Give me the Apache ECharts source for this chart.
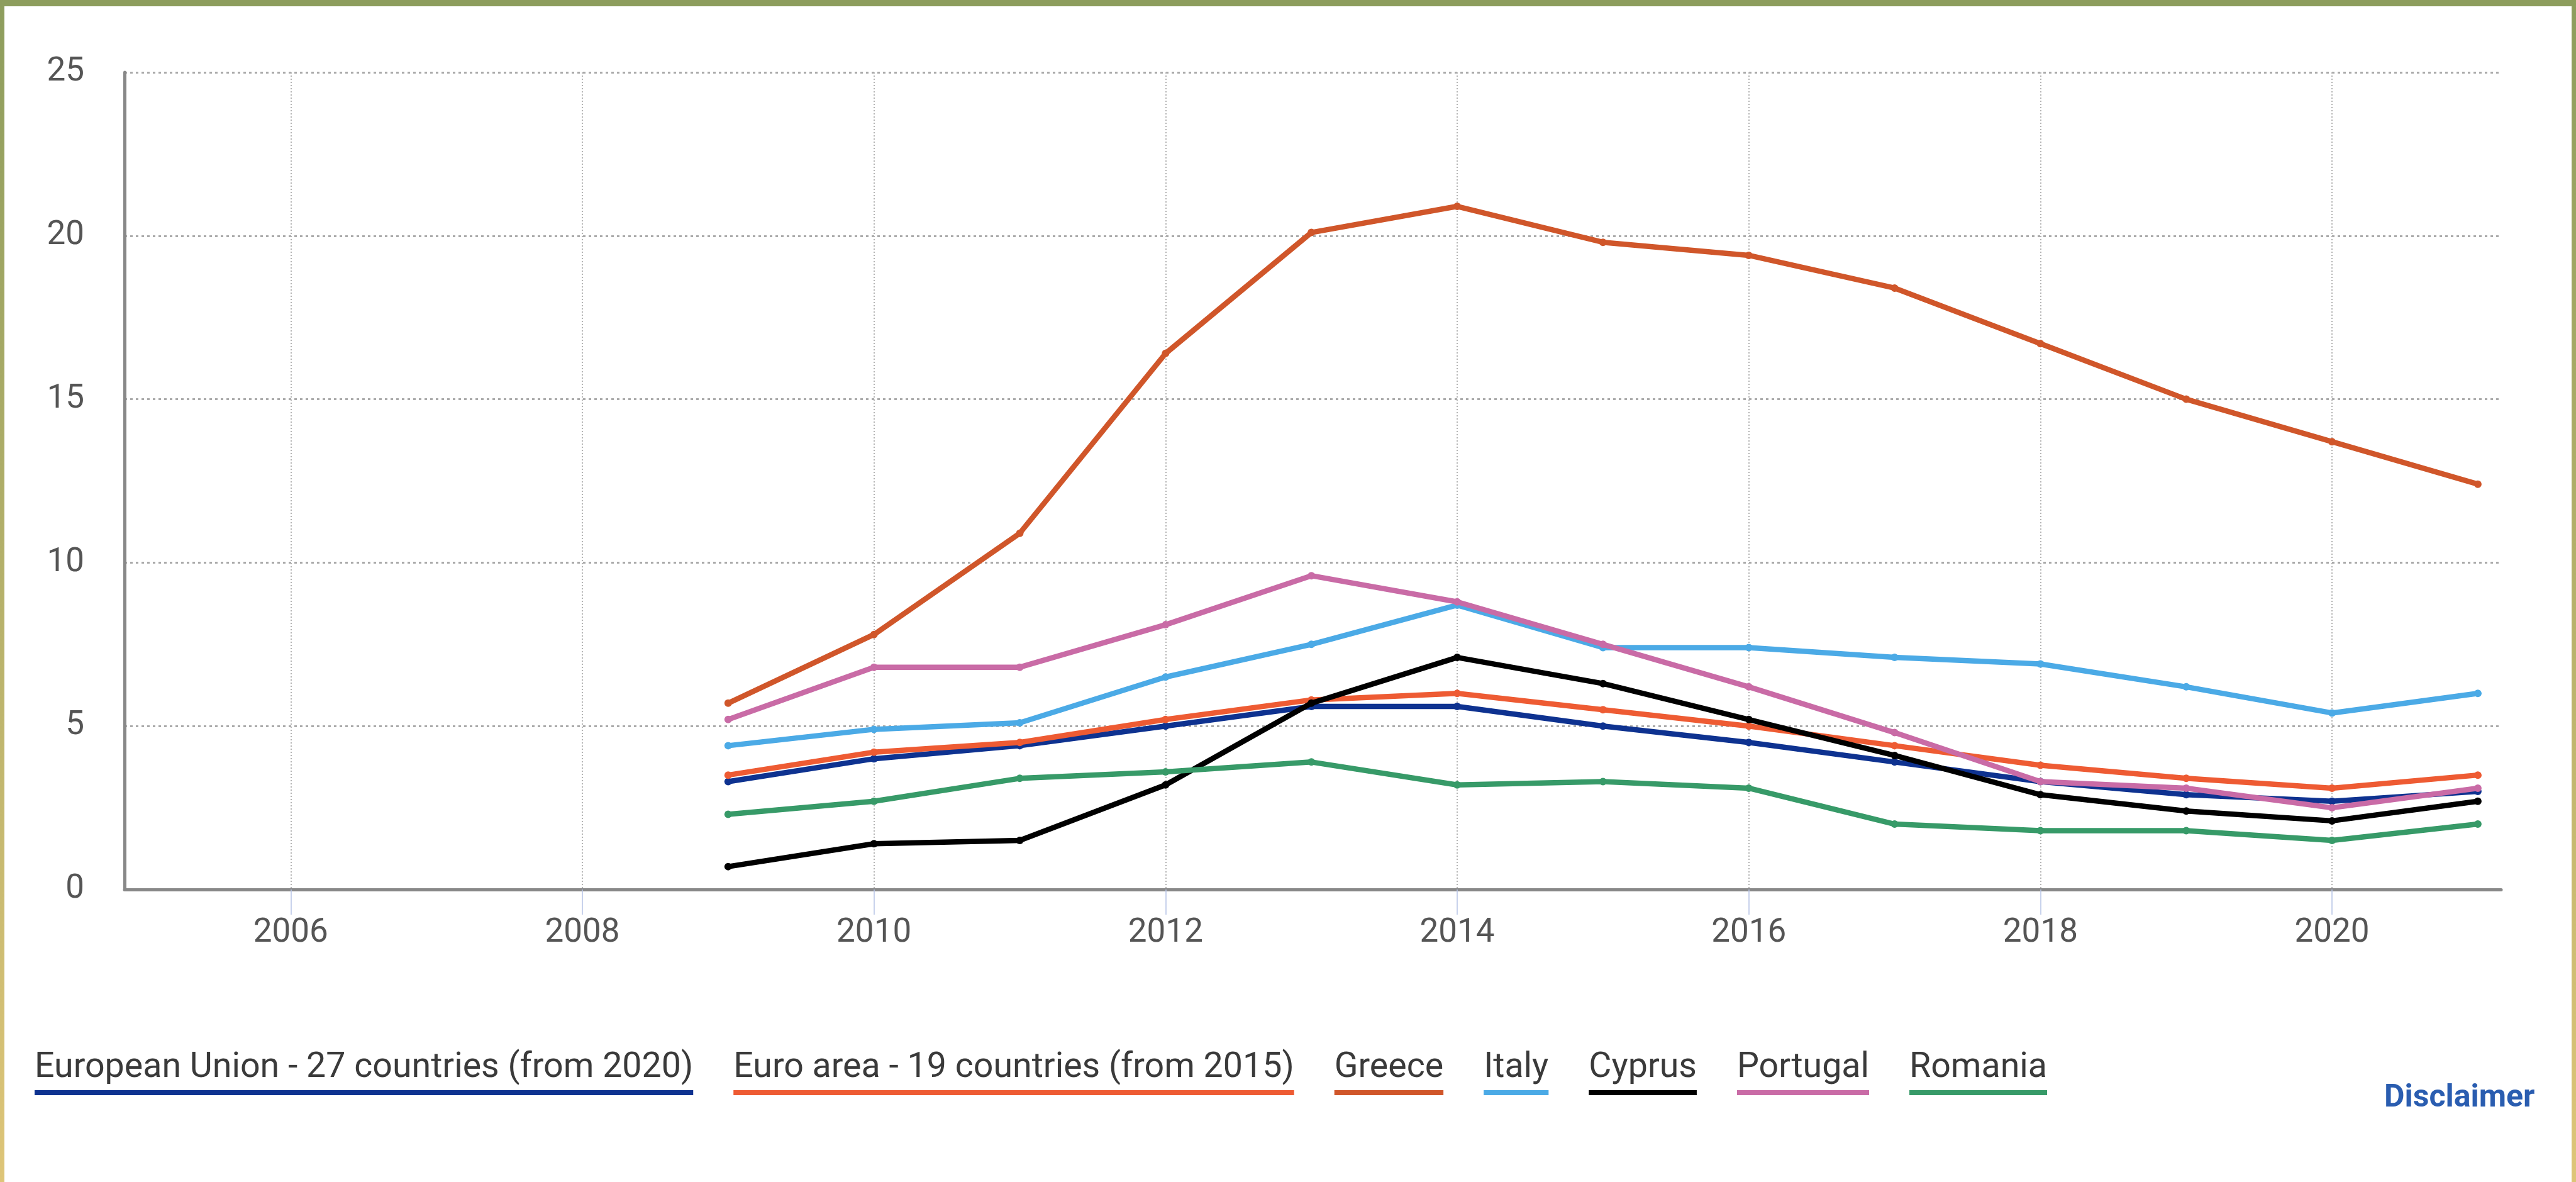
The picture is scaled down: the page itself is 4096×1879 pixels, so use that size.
<!DOCTYPE html>
<html>
<head>
<meta charset="utf-8">
<title>Long-term unemployment</title>
<script src="https://cdn.jsdelivr.net/npm/echarts@6/dist/echarts.min.js"></script>
<style>
  html, body { margin: 0; padding: 0; background: #fff; }
  #chart { width: 4096px; height: 1879px; }
</style>
</head>
<body>
<div id="chart"></div>
<script>
// data
const years = [2009, 2010, 2011, 2012, 2013, 2014, 2015, 2016, 2017, 2018, 2019, 2020, 2021];
const xTickYears = [2006, 2008, 2010, 2012, 2014, 2016, 2018, 2020];

const seriesNames = [
  "European Union - 27 countries (from 2020)",
  "Euro area - 19 countries (from 2015)",
  "Greece",
  "Italy",
  "Cyprus",
  "Portugal",
  "Romania",
];
const euValues = [3.3, 4.0, 4.4, 5.0, 5.6, 5.6, 5.0, 4.5, 3.9, 3.3, 2.9, 2.7, 3.0];
const euroAreaValues = [3.5, 4.2, 4.5, 5.2, 5.8, 6.0, 5.5, 5.0, 4.4, 3.8, 3.4, 3.1, 3.5];
const greeceValues = [5.7, 7.8, 10.9, 16.4, 20.1, 20.9, 19.8, 19.4, 18.4, 16.7, 15.0, 13.7, 12.4];
const italyValues = [4.4, 4.9, 5.1, 6.5, 7.5, 8.7, 7.4, 7.4, 7.1, 6.9, 6.2, 5.4, 6.0];
const cyprusValues = [0.7, 1.4, 1.5, 3.2, 5.7, 7.1, 6.3, 5.2, 4.1, 2.9, 2.4, 2.1, 2.7];
const portugalValues = [5.2, 6.8, 6.8, 8.1, 9.6, 8.8, 7.5, 6.2, 4.8, 3.3, 3.1, 2.5, 3.1];
const romaniaValues = [2.3, 2.7, 3.4, 3.6, 3.9, 3.2, 3.3, 3.1, 2.0, 1.8, 1.8, 1.5, 2.0];

const allValues = [euValues, euroAreaValues, greeceValues, italyValues, cyprusValues, portugalValues, romaniaValues];
const colors = ["#0e3290", "#ee5b33", "#d0562a", "#4baae6", "#000000", "#c96ba6", "#379a68"];

const chart = echarts.init(document.getElementById("chart"));

// legend: name on top, coloured bar underneath as wide as the name
const legendRich = {
  t: { fontFamily: "Roboto", fontSize: 55.5, lineHeight: 70, color: "#3a3a3a" },
};
colors.forEach((c, i) => {
  legendRich["l" + i] = { width: "100%", height: 8, lineHeight: 8, backgroundColor: c };
});

const series = seriesNames.map((name, i) => ({
  name: name,
  type: "line",
  data: years.map((y, j) => [y, allValues[i][j]]),
  symbol: "circle",
  symbolSize: 12,
  showSymbol: true,
  lineStyle: { width: 8.5, color: colors[i] },
  itemStyle: { color: colors[i] },
  z: 2 + i,
}));

const option = {
  animation: false,
  backgroundColor: "#fff",
  grid: { left: 198, right: 119, top: 115, bottom: 465 },
  xAxis: {
    type: "value",
    min: 2004.86,
    max: 2021.16,
    axisLine: { show: true, lineStyle: { color: "#888", width: 5 } },
    axisTick: {
      show: true,
      length: 40,
      customValues: xTickYears,
      lineStyle: { color: "#b6c4e6", width: 1.5 },
    },
    axisLabel: {
      customValues: xTickYears,
      formatter: (v) => String(v),
      fontFamily: "Roboto",
      fontSize: 53,
      color: "#555",
      margin: 43,
    },
    splitLine: {
      show: true,
      lineStyle: { color: "#b4b4b4", width: 2, type: [2, 3] },
    },
  },
  yAxis: {
    type: "value",
    min: 0,
    max: 25,
    interval: 5,
    axisLine: { show: true, lineStyle: { color: "#888", width: 5 } },
    axisTick: { show: false },
    axisLabel: {
      fontFamily: "Roboto",
      fontSize: 53,
      color: "#555",
      margin: 64,
      padding: [0, 0, 10, 0],
    },
    splitLine: {
      show: true,
      lineStyle: { color: "#aaaaaa", width: 3, type: [4, 5] },
    },
  },
  legend: {
    left: 49,
    top: 1670,
    padding: 0,
    itemWidth: 0,
    itemHeight: 0,
    itemGap: 58,
    selectedMode: false,
    data: seriesNames,
    formatter: (name) => "{t|" + name + "}\n{l" + seriesNames.indexOf(name) + "| }",
    textStyle: { rich: legendRich },
  },
  graphic: [
    // frame: green top bar, side bars fading to sand
    { type: "rect", left: 0, top: 0, shape: { width: 4096, height: 10 }, style: { fill: "#8d9d5d" }, z: 100 },
    {
      type: "rect", left: 0, top: 0, shape: { width: 7, height: 1879 }, z: 100,
      style: { fill: new echarts.graphic.LinearGradient(0, 0, 0, 1, [{ offset: 0, color: "#8d9d5d" }, { offset: 1, color: "#dec578" }]) },
    },
    {
      type: "rect", right: 0, top: 0, shape: { width: 7, height: 1879 }, z: 100,
      style: { fill: new echarts.graphic.LinearGradient(0, 0, 0, 1, [{ offset: 0, color: "#8d9d5d" }, { offset: 1, color: "#dec578" }]) },
    },
    {
      type: "text", left: 3791, top: 1721,
      style: { text: "Disclaimer", fontFamily: "Roboto", fontSize: 50, fontWeight: "bold", fill: "#2a5db0" },
    },
  ],
  series: series,
};

chart.setOption(option);
</script>
</body>
</html>
